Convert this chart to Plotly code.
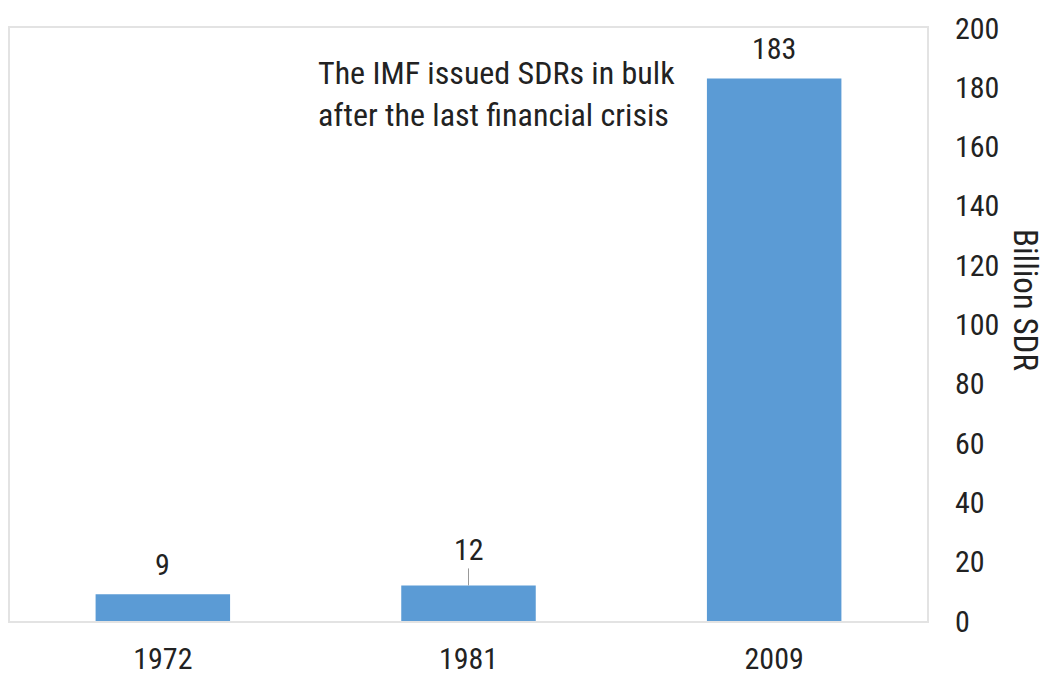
import plotly.graph_objects as go

years = ["1972", "1981", "2009"]
sdr_billion = [9, 12, 183]
y_ticks = [0, 20, 40, 60, 80, 100, 120, 140, 160, 180, 200]
note_text = "The IMF issued SDRs in bulk<br>after the last financial crisis"
axis_title = "Billion SDR"

FONT = "Roboto Condensed, DejaVu Sans Condensed, Liberation Sans Narrow, Arial Narrow, Liberation Sans, sans-serif"
TXT = "#222222"

fig = go.Figure()
fig.add_trace(go.Bar(
    x=years, y=sdr_billion,
    marker=dict(color="#5b9bd5", line=dict(width=0)),
    width=0.44,
    hoverinfo="x+y",
))

annotations = []
for i, (yr, v) in enumerate(zip(years, sdr_billion)):
    if yr == "1981":
        annotations.append(dict(
            x=i, y=v, xref="x", yref="y", text=str(v),
            showarrow=True, ax=0, ay=-36, arrowhead=0, arrowwidth=1,
            arrowcolor="#999999", standoff=0,
            font=dict(size=30, family=FONT, color=TXT),
        ))
    else:
        annotations.append(dict(
            x=i, y=v, xref="x", yref="y", text=str(v),
            showarrow=False, yanchor="bottom", yshift=10,
            font=dict(size=30, family=FONT, color=TXT),
        ))

annotations += [
    dict(
        text=note_text, xref="paper", yref="paper",
        x=(316 - 10) / 917, y=0.889, xanchor="left", yanchor="middle",
        align="left", showarrow=False,
        font=dict(size=32, family=FONT, color=TXT),
    ),
    dict(
        text=axis_title, xref="paper", yref="paper",
        x=(1025 - 10) / 917, y=(621 - 300) / 593,
        xanchor="center", yanchor="middle", textangle=90,
        showarrow=False,
        font=dict(size=33, family=FONT, color=TXT),
    ),
]

fig.update_layout(
    width=1045, height=673,
    margin=dict(l=10, r=118, t=28, b=52),
    paper_bgcolor="white", plot_bgcolor="white",
    showlegend=False,
    font=dict(family=FONT, size=30, color=TXT),
    xaxis=dict(
        type="category",
        range=[-0.5, 2.5],
        automargin=False,
        showgrid=False,
        showline=True, linecolor="#e3e3e3", linewidth=2, mirror=True,
        ticks="", ticklabelstandoff=10,
        tickfont=dict(size=30, family=FONT, color=TXT),
    ),
    yaxis=dict(
        side="right",
        range=[0, 200],
        automargin=False,
        tickvals=y_ticks,
        showgrid=False, zeroline=False,
        showline=True, linecolor="#e3e3e3", linewidth=2, mirror=True,
        ticks="", ticklabelstandoff=20,
        tickfont=dict(size=30, family=FONT, color=TXT),
    ),
    annotations=annotations,
)

fig.write_html(
    "out.html",
    config={"displayModeBar": False},
    post_script="document.body.style.margin='0';document.body.style.padding='0';",
)
